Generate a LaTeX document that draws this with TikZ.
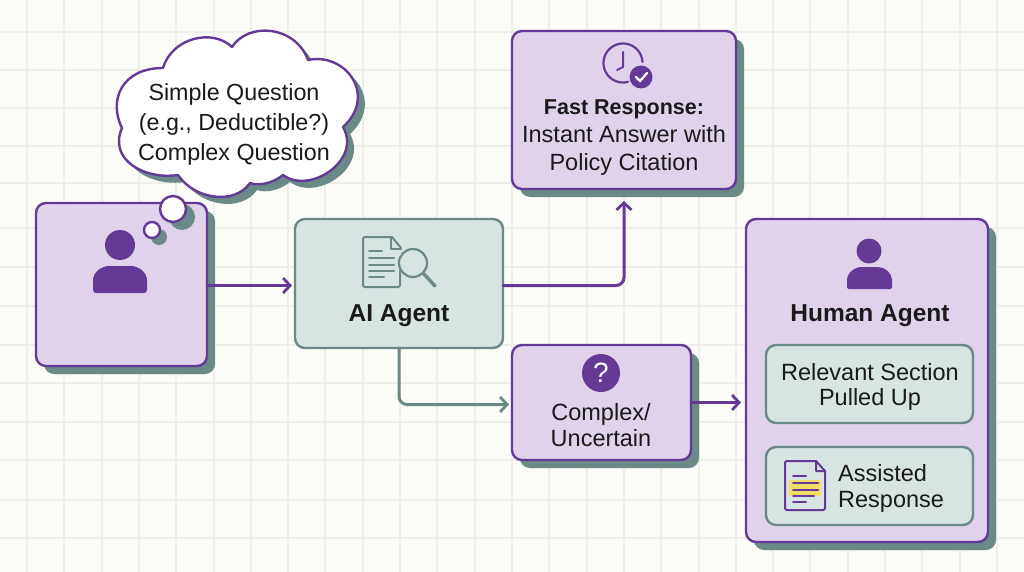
\documentclass[tikz,border=0pt]{standalone}
\usepackage{fontspec}
\setmainfont{Liberation Sans}
\usetikzlibrary{arrows.meta,shadows,calc}
\definecolor{bgc}{HTML}{FBFBF7}
\definecolor{gridc}{HTML}{EEEEE8}
\definecolor{lilac}{HTML}{E0D2EA}
\definecolor{purp}{HTML}{653A96}
\definecolor{sage}{HTML}{D7E4E2}
\definecolor{teal}{HTML}{6B8A87}
\definecolor{ink}{HTML}{1A1A1A}
\definecolor{hilite}{HTML}{F2DC66}
\newcommand{\fs}[2]{\fontsize{#1}{#2}\selectfont}
\tikzset{
  base/.style={rounded corners=10pt,line width=2.4pt,outer sep=0pt,inner sep=0pt},
  shadowbox/.style={base,draw=purp,fill=lilac,general shadow={fill=teal,shadow xshift=8pt,shadow yshift=-8pt}},
  sagebox/.style={base,draw=teal,fill=sage},
  label/.style={text=ink,align=center,inner sep=0pt},
  flowp/.style={draw=purp,line width=3pt,line cap=round,rounded corners=8pt,-{Straight Barb[length=7pt,width=15pt,line width=2.8pt]}},
  flowt/.style={draw=teal,line width=3pt,line cap=round,rounded corners=8pt,-{Straight Barb[length=7pt,width=15pt,line width=2.8pt]}},
  icont/.style={draw=teal,line width=2pt,line cap=round,line join=round},
  iconp/.style={draw=purp,line width=2pt,line cap=round,line join=round},
}
\newcommand{\cloudshape}{(163,68) .. controls (172,38) and (212,28) .. (232,47)
  .. controls (248,22) and (295,25) .. (308,60)
  .. controls (345,52) and (378,95) .. (343,127)
  .. controls (362,160) and (310,195) .. (283,175)
  .. controls (272,184) and (258,186) .. (250,183)
  .. controls (235,205) and (195,200) .. (178,175)
  .. controls (145,180) and (108,160) .. (122,128)
  .. controls (108,100) and (122,68) .. (163,68) -- cycle}
\begin{document}
\begin{tikzpicture}[x=1pt,y=-1pt]
\useasboundingbox (0,0) rectangle (1024,572);
\fill[bgc] (0,0) rectangle (1024,572);
% grid
\foreach \xx in {27,64,102,139,176,214,251,288,325,363,400,437,475,512,549,587,624,661,699,736,773,810,848,885,922,960,997} \draw[gridc,line width=2pt] (\xx,0) -- (\xx,572);
\foreach \yy in {32,70,108,146,183,228,267,306,345,383,422,460,500,538} \draw[gridc,line width=2pt] (0,\yy) -- (1024,\yy);

% user box
\node[shadowbox,minimum width=171pt,minimum height=163pt] (user) at (121.5,284.5) {};
\fill[purp] (120,245) circle (15);
\fill[purp,rounded corners=3pt] (93,293) -- (93,283) .. controls (93,272) and (102,266) .. (112,266) -- (128,266) .. controls (138,266) and (147,272) .. (147,283) -- (147,293) -- cycle;

% cloud
\fill[teal,shift={(7,7)}] \cloudshape;
\fill[teal] (182,217) circle (13);
\fill[teal] (159,237) circle (8);
\draw[purp,line width=2.4pt,fill=white,line join=round] \cloudshape;
\node[circle,draw=purp,fill=white,line width=2.4pt,minimum size=26pt,inner sep=0pt] (bubbleA) at (173,209) {};
\node[circle,draw=purp,fill=white,line width=2.4pt,minimum size=16pt,inner sep=0pt] (bubbleB) at (152,230) {};
\node[label,font=\fs{23.3}{30}] (cloudtext) at (234,124) {Simple Question\\(e.g., Deductible?)\\Complex Question};

% AI agent
\node[sagebox,minimum width=208pt,minimum height=129pt] (ai) at (399,283.5) {};
\draw[icont,rounded corners=1.5pt] (392,237) -- (363,237) -- (363,287) -- (400,287) -- (400,270);
\draw[icont] (392,237) -- (401,248);
\draw[icont] (391,238) -- (391,249) -- (401,249);
\draw[icont] (369,251) -- (382,251) (369,258) -- (394,258) (369,264.5) -- (394,264.5) (369,270.5) -- (394,270.5) (369,277) -- (384,277);
\draw[icont,line width=2.2pt] (413,263) circle (14);
\draw[teal,line width=3.4pt,line cap=round] (423,273) -- (435,286);
\node[label,font=\fs{24.5}{28}\bfseries] (aitext) at (399,315.5) {AI Agent};

% fast response
\node[shadowbox,minimum width=224pt,minimum height=158pt] (fast) at (624,110) {};
\draw[iconp,line width=2.2pt] plot[domain=75:357,samples=50] ({623+19.5*cos(\x)},{63+19.5*sin(\x)});
\draw[iconp] (623,52) -- (623,67) -- (617,70);
\fill[purp] (641,77) circle (11.5);
\draw[white,line width=2.2pt,line cap=round,line join=round] (636,77) -- (640,81) -- (647,73);
\node[label,font=\fs{23.5}{28}] (fasttext) at (624,138) {{\fs{21.5}{28}\bfseries Fast Response:}\\Instant Answer with\\Policy Citation};

% complex
\node[shadowbox,minimum width=179pt,minimum height=115pt] (cx) at (601.5,402.5) {};
\node[circle,fill=purp,minimum size=38pt,inner sep=0pt,text=white,font=\fs{28}{28}] (qmark) at (601,373) {?};
\node[label,font=\fs{23.5}{26}] (cxtext) at (601,425) {Complex/\\Uncertain};

% human agent
\node[shadowbox,minimum width=242pt,minimum height=323pt] (human) at (867,380.5) {};
\fill[purp] (869,251) circle (12.5);
\fill[purp,rounded corners=2pt] (847,289) -- (847,282) .. controls (847,273) and (855,267) .. (863,267) -- (876,267) .. controls (885,267) and (892,273) .. (892,282) -- (892,289) -- cycle;
\node[label,font=\fs{24.5}{28}\bfseries] (humantext) at (870,315.5) {Human Agent};
\node[sagebox,minimum width=207pt,minimum height=78pt] (rel) at (869.5,384) {};
\node[label,font=\fs{23.5}{25}] (reltext) at (870,386.5) {Relevant Section\\Pulled Up};
\node[sagebox,minimum width=207pt,minimum height=78pt] (asst) at (869.5,486) {};
\fill[hilite,rounded corners=1.5pt] (789,480) rectangle (821,496);
\draw[iconp,rounded corners=1.5pt] (816,461) -- (785,461) -- (785,510) -- (825,510) -- (825,471);
\draw[iconp] (816,461) -- (825,471) -- (816,471) -- cycle;
\draw[iconp] (793,476) -- (806,476) (793,483) -- (818,483) (793,489.5) -- (818,489.5) (793,495.5) -- (814,495.5) (793,502) -- (806,502);
\node[label,align=left,anchor=west,font=\fs{23.5}{26}] (assttext) at (838,488) {Assisted\\Response};

% connectors
\draw[flowp] ([yshift=-1pt]user.east) -- ([yshift=-2pt,xshift=-3pt]ai.west);
\draw[flowp] ([yshift=-2pt]ai.east) -| ([yshift=-12pt]fast.south);
\draw[flowt] ([yshift=0pt]ai.south) |- ([xshift=-3pt,yshift=-2pt]cx.west);
\draw[flowp] (cx.east) -- ([xshift=-5pt]cx.east -| human.west);
\end{tikzpicture}
\end{document}
